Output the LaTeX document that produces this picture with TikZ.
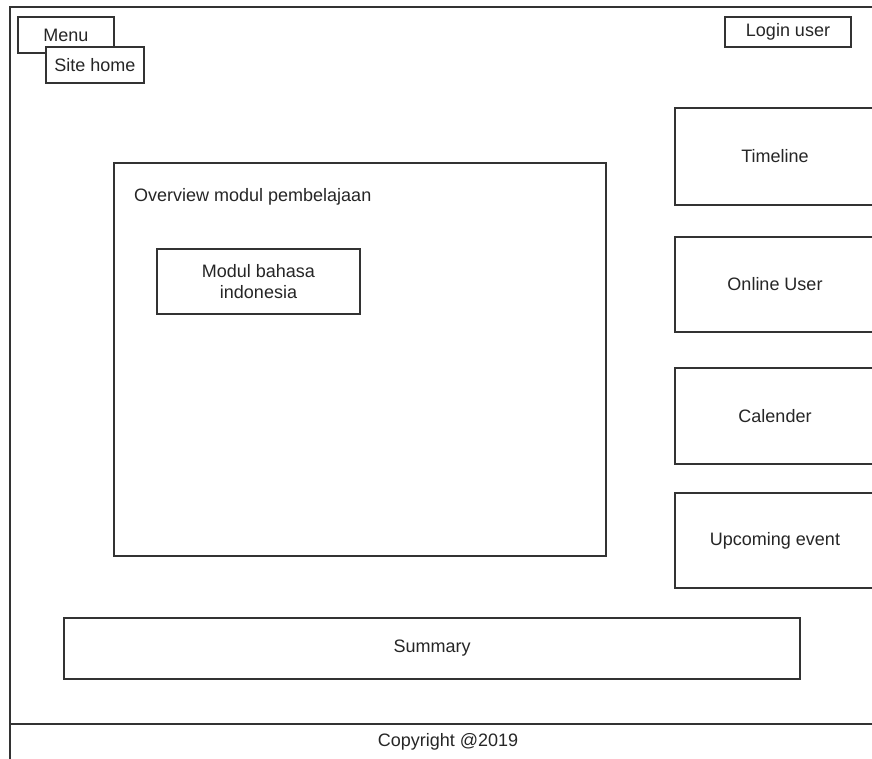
\documentclass[tikz,border=0pt]{standalone}
\usepackage{fontspec}
\setmainfont{Liberation Sans}
\usetikzlibrary{calc}

\tikzset{
  ui/.style={draw=black!80, line width=1.2pt, fill=white, inner sep=0pt, font=\fontsize{18}{21}\selectfont, text=black!85},
  txt/.style={inner sep=0pt, font=\fontsize{18}{21}\selectfont, text=black!85}
}

\begin{document}
\begin{tikzpicture}[x=1pt,y=-1pt]
      \useasboundingbox (0,0) rectangle (872,758);
      \clip (0,0) rectangle (872,758);
      % page frame
      \draw[black!80,line width=1.2pt] (872,7) -- (10,7) -- (10,760);
      \draw[black!80,line width=1.2pt] (10,724) -- (874,724);
      % top bar
      \node[ui,minimum width=96,minimum height=36] (menu) at (66,35) {Menu};
      \node[ui,minimum width=98,minimum height=36] (home) at (95,65) {Site home};
      \node[ui,minimum width=126,minimum height=30] (login) at (788,32) {Login user};
      % main content
      \node[ui,minimum width=492,minimum height=393] (overview) at (360,359.5) {};
      \node[txt,anchor=west] (title) at (134,197) {Overview modul pembelajaan};
      \node[ui,minimum width=203,minimum height=65,align=center] (modul) at (258.5,281.5) {Modul bahasa\\indonesia};
      % side blocks
      \node[ui,minimum width=200,minimum height=97] (timeline) at (775,156.5) {Timeline};
      \node[ui,minimum width=200,minimum height=95] (online) at (775,284.5) {Online User};
      \node[ui,minimum width=200,minimum height=96] (calender) at (775,416) {Calender};
      \node[ui,minimum width=200,minimum height=95] (event) at (775,540.5) {Upcoming event};
      % bottom
      \node[ui,minimum width=736,minimum height=61] (summary) at (432,648.5) {Summary};
      \node[txt] (copy) at (448,742) {Copyright @2019};
    \end{tikzpicture}
\end{document}
